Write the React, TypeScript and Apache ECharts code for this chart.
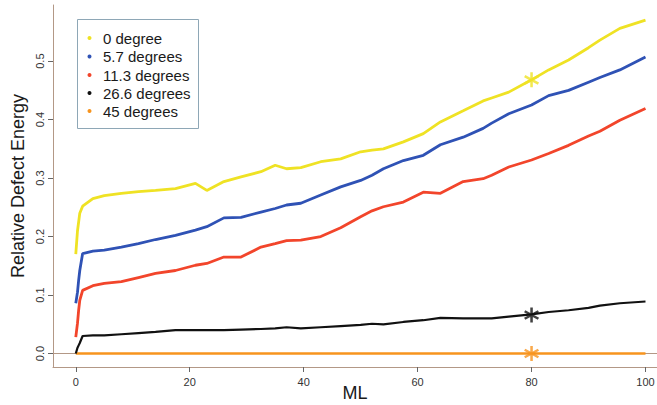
import React, { useEffect, useRef } from "react";
import * as echarts from "echarts";

const ML = [0, 0.3, 0.5, 0.7, 1.2, 3, 5, 8, 11, 14, 17.5, 21, 23, 26, 29, 32.5, 35, 37, 39.5, 43, 46.5, 50, 52, 54, 57.5, 61, 64, 68, 71.5, 73, 76, 80, 83, 86.5, 90, 92, 95.5, 100];

const deg0 = [0.17, 0.21, 0.225, 0.24, 0.252, 0.265, 0.27, 0.274, 0.277, 0.279, 0.282, 0.291, 0.279, 0.294, 0.302, 0.311, 0.322, 0.316, 0.318, 0.328, 0.333, 0.345, 0.348, 0.35, 0.362, 0.376, 0.396, 0.415, 0.432, 0.437, 0.447, 0.468, 0.485, 0.502, 0.523, 0.536, 0.556, 0.57];
const deg5_7 = [0.086, 0.105, 0.125, 0.142, 0.171, 0.175, 0.177, 0.182, 0.188, 0.195, 0.202, 0.211, 0.217, 0.232, 0.233, 0.242, 0.248, 0.254, 0.257, 0.271, 0.285, 0.296, 0.305, 0.316, 0.33, 0.339, 0.357, 0.37, 0.385, 0.394, 0.41, 0.425, 0.441, 0.45, 0.464, 0.472, 0.485, 0.507];
const deg11_3 = [0.028, 0.052, 0.074, 0.091, 0.108, 0.116, 0.12, 0.123, 0.13, 0.137, 0.142, 0.151, 0.154, 0.165, 0.165, 0.182, 0.188, 0.193, 0.194, 0.2, 0.215, 0.234, 0.244, 0.251, 0.259, 0.276, 0.274, 0.294, 0.299, 0.305, 0.319, 0.331, 0.342, 0.356, 0.372, 0.38, 0.399, 0.419];
const deg26_6 = [0.0, 0.01, 0.014, 0.018, 0.03, 0.031, 0.031, 0.033, 0.035, 0.037, 0.04, 0.04, 0.04, 0.04, 0.041, 0.042, 0.043, 0.045, 0.043, 0.045, 0.047, 0.049, 0.051, 0.05, 0.054, 0.057, 0.061, 0.06, 0.06, 0.06, 0.063, 0.067, 0.071, 0.074, 0.078, 0.082, 0.086, 0.089];
const orangeML = [0, 100];
const deg45 = [0, 0];

const seriesNames = ["0 degree", "5.7 degrees", "11.3 degrees", "26.6 degrees", "45 degrees"];
const seriesColors = ["#efe224", "#2f52b5", "#f2452b", "#111111", "#f7941e"];

// star markers at ML = 80
const starML = [80, 80, 80];
const starValues = [0.468, 0.066, 0.0];
const starColors = ["#efe224", "#111111", "#f7941e"];

const xTicks = [0, 20, 40, 60, 80, 100];
const yTicks = [0, 0.1, 0.2, 0.3, 0.4, 0.5];

const FONT = "Liberation Sans, Arial, Helvetica, sans-serif";
const BORDER = "#b39886";

const STAR_PATH =
  "path://M-1.6,-10 L1.6,-10 L1.6,10 L-1.6,10 Z M7.86,-6.39 L9.46,-3.61 L-7.86,6.39 L-9.46,3.61 Z M9.46,3.61 L7.86,6.39 L-9.46,-3.61 L-7.86,-6.39 Z";

function pairs(xs: number[], ys: number[]) {
  return xs.map((x, i) => [x, ys[i]]);
}

export default function App() {
  const ref = useRef<HTMLDivElement>(null);
  useEffect(() => {
    if (!ref.current) return;
    const chart = echarts.init(ref.current, null, { renderer: "svg" });
    const lineData = [deg0, deg5_7, deg11_3, deg26_6];
    const series: any[] = lineData.map((vals, i) => ({
      name: seriesNames[i],
      type: "line",
      data: pairs(ML, vals),
      showSymbol: false,
      symbol: "none",
      lineStyle: { color: seriesColors[i], width: i === 3 ? 2.2 : 2.8 },
      itemStyle: { color: seriesColors[i] },
      z: 3,
    }));
    series.push({
      name: seriesNames[4],
      type: "line",
      data: pairs(orangeML, deg45),
      showSymbol: false,
      symbol: "none",
      lineStyle: { color: seriesColors[4], width: 2.5 },
      z: 2,
    });
    series.push({
      name: "stars",
      type: "scatter",
      data: starML.map((x, i) => ({ value: [x, starValues[i]], itemStyle: { color: starColors[i] } })),
      symbol: STAR_PATH,
      symbolSize: 15,
      z: 5,
    });

    const legendTop = 19;
    const rowY = [38, 56.5, 75, 93, 111];
    const graphic: any[] = [
      {
        type: "rect",
        shape: { x: 77.5, y: legendTop + 0.5, width: 121, height: 109 },
        style: { fill: "#ffffff", stroke: "#8ea7b6", lineWidth: 1 },
        z: 10,
      },
    ];
    seriesNames.forEach((name, i) => {
      graphic.push({
        type: "circle",
        shape: { cx: 89.5, cy: rowY[i], r: 2 },
        style: { fill: seriesColors[i] },
        z: 11,
      });
      graphic.push({
        type: "text",
        x: 103,
        y: rowY[i],
        style: {
          text: name,
          fill: "#1a1a1a",
          font: `15px ${FONT}`,
          verticalAlign: "middle",
          align: "left",
        },
        z: 11,
      });
    });

    chart.setOption({
      animation: false,
      backgroundColor: "#ffffff",
      grid: { left: 53, top: 5, right: 0, bottom: 38, containLabel: false, outerBoundsMode: "none" },
      xAxis: [
        {
          type: "value",
          min: -4,
          max: 102.02,
          position: "bottom",
          name: "ML",
          nameLocation: "middle",
          nameGap: 17,
          nameMoveOverlap: false,
          nameTextStyle: { fontSize: 18, color: "#1a1a1a", fontFamily: FONT },
          axisLine: { show: true, onZero: false, lineStyle: { color: BORDER, width: 1 } },
          axisTick: { show: true, length: 5, customValues: xTicks, lineStyle: { color: "#666" } },
          axisLabel: {
            customValues: xTicks,
            fontSize: 11,
            color: "#333",
            fontFamily: FONT,
            margin: 9,
          },
          splitLine: { show: false },
        },
        {
          type: "value",
          min: -4,
          max: 102.02,
          position: "top",
          axisLine: { show: true, lineStyle: { color: BORDER, width: 1 } },
          axisTick: { show: false },
          axisLabel: { show: false },
          splitLine: { show: false },
        },
      ],
      yAxis: {
        type: "value",
        min: -0.023,
        max: 0.596,
        name: "Relative Defect Energy",
        nameLocation: "middle",
        nameGap: 26,
        nameMoveOverlap: false,
        nameTextStyle: { fontSize: 18, color: "#1a1a1a", fontFamily: FONT },
        axisLine: { show: true, onZero: false, lineStyle: { color: BORDER, width: 1 } },
        axisTick: { show: true, length: 5, customValues: yTicks, lineStyle: { color: "#666" } },
        axisLabel: {
          customValues: yTicks,
          rotate: 90,
          fontSize: 11,
          color: "#333",
          fontFamily: FONT,
          margin: 8,
          formatter: (v: number) => v.toFixed(1),
        },
        splitLine: { show: false },
      },
      series,
      graphic,
    });
    return () => chart.dispose();
  }, []);
  return (
    <div
      ref={ref}
      style={{ position: "fixed", left: 0, top: 0, width: 657, height: 405, background: "#fff" }}
    />
  );
}
